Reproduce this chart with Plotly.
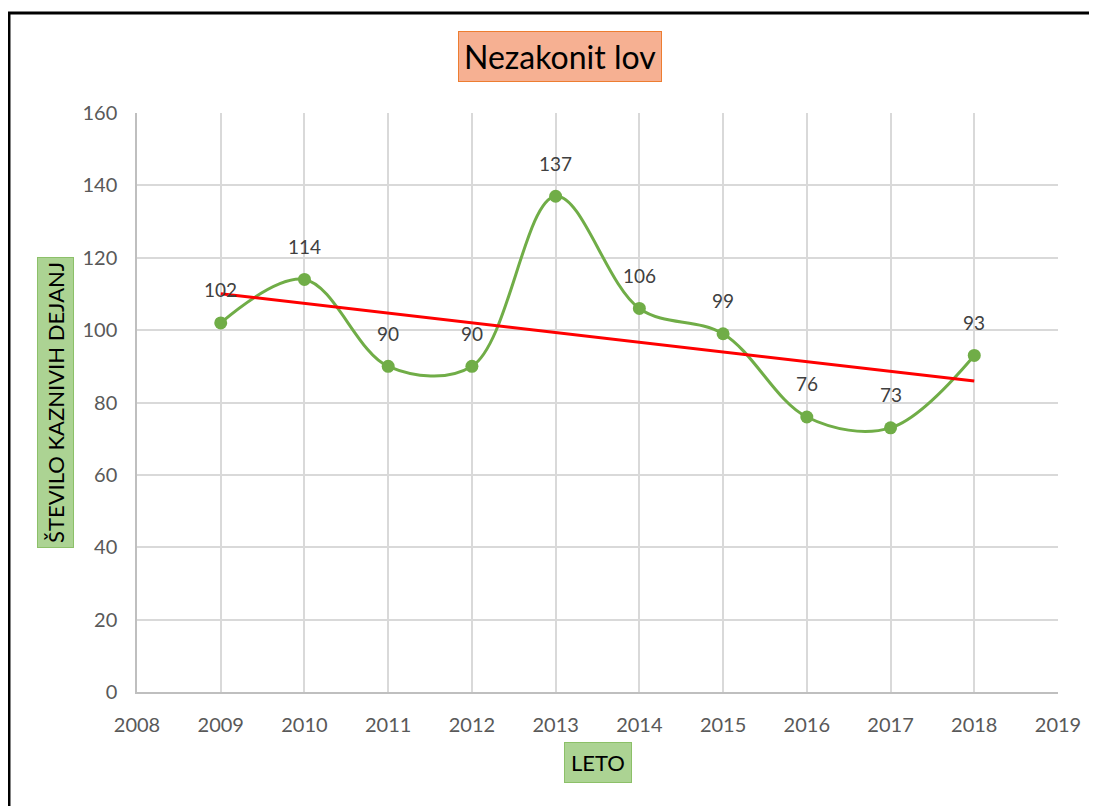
import numpy as np
import plotly.graph_objects as go

years = [2009, 2010, 2011, 2012, 2013, 2014, 2015, 2016, 2017, 2018]
values = [102, 114, 90, 90, 137, 106, 99, 76, 73, 93]
x_ticks = list(range(2008, 2020))
y_ticks = list(range(0, 161, 20))
title_text = "Nezakonit lov"
x_title = "LETO"
y_title = "ŠTEVILO KAZNIVIH DEJANJ"

FONT = "Lato, Calibri, Arial, sans-serif"

slope, intercept = np.polyfit(years, values, 1)
trend_x = [years[0], years[-1]]
trend_y = [slope * x + intercept for x in trend_x]

fig = go.Figure()
fig.add_trace(go.Scatter(
    x=years, y=values, mode="lines+markers",
    line=dict(color="#70ad47", width=3, shape="spline", smoothing=1),
    marker=dict(color="#70ad47", size=13),
    showlegend=False, hoverinfo="x+y",
))
fig.add_trace(go.Scatter(
    x=trend_x, y=trend_y, mode="lines",
    line=dict(color="#ff0000", width=3),
    showlegend=False, hoverinfo="skip",
))

annotations = []
for x, v in zip(years, values):
    annotations.append(dict(
        x=x, y=v, xref="x", yref="y", text=str(v), showarrow=False,
        yshift=33, font=dict(family=FONT, size=19, color="#404040"),
    ))

annotations.append(dict(
    x=0.4593, y=1.0984, xref="paper", yref="paper", text=title_text,
    showarrow=False, font=dict(family=FONT, size=32, color="#000000"),
    bgcolor="#f6b092", bordercolor="#ed7d31", borderwidth=1, borderpad=5,
    xanchor="center", yanchor="middle",
))
annotations.append(dict(
    x=-0.0885, y=0.5, xref="paper", yref="paper", text=y_title,
    showarrow=False, textangle=-90, font=dict(family=FONT, size=22, color="#000000"),
    bgcolor="#acd393", bordercolor="#8cc068", borderwidth=1, borderpad=4,
    xanchor="center", yanchor="middle",
))
annotations.append(dict(
    x=0.5, y=-0.1218, xref="paper", yref="paper", text=x_title,
    showarrow=False, font=dict(family=FONT, size=22, color="#000000"),
    bgcolor="#acd393", bordercolor="#8cc068", borderwidth=1, borderpad=6,
    xanchor="center", yanchor="middle",
))

shapes = [
    dict(type="line", xref="paper", yref="paper", x0=-0.139, x1=-0.139,
         y0=1.1727, y1=-0.22, line=dict(color="#000000", width=3)),
    dict(type="line", xref="paper", yref="paper", x0=-0.1405, x1=1.06,
         y0=1.1727, y1=1.1727, line=dict(color="#000000", width=3)),
]

fig.update_layout(
    width=1097, height=806,
    margin=dict(l=129, r=47, t=105, b=122),
    paper_bgcolor="#ffffff", plot_bgcolor="#ffffff",
    annotations=annotations, shapes=shapes,
    font=dict(family=FONT),
)
fig.update_xaxes(
    range=[2008, 2019], tickvals=x_ticks, ticktext=[str(t) for t in x_ticks],
    showgrid=True, gridcolor="#d9d9d9", gridwidth=1.5,
    showline=True, linecolor="#bfbfbf", linewidth=1.5, mirror=False,
    zeroline=False, ticks="", ticklabelstandoff=14,
    tickfont=dict(family=FONT, size=20, color="#595959"),
)
fig.update_yaxes(
    range=[0, 160], tickvals=y_ticks,
    showgrid=True, gridcolor="#d9d9d9", gridwidth=1.5,
    showline=True, linecolor="#bfbfbf", linewidth=1.5,
    zeroline=False, ticks="", ticklabelstandoff=14,
    tickfont=dict(family=FONT, size=20, color="#595959"),
)

fig.write_html("out.html")
